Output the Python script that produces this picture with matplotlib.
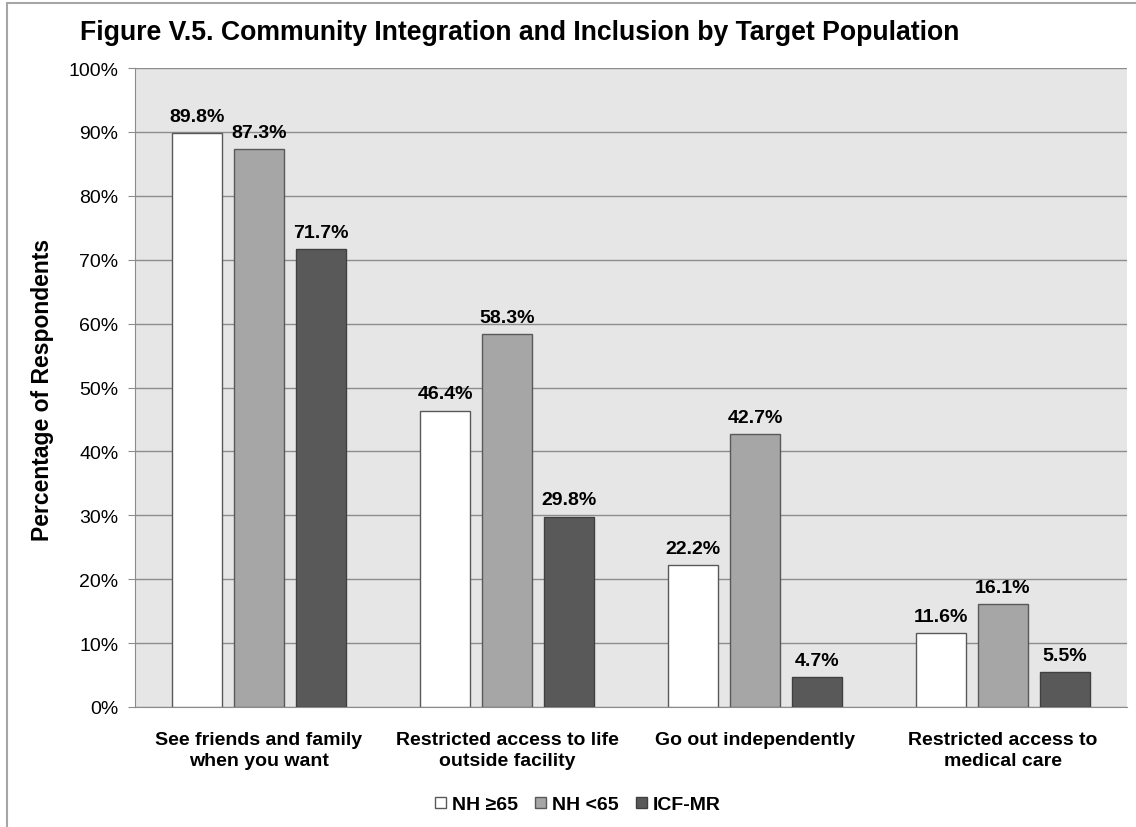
import matplotlib
matplotlib.use("Agg")
import matplotlib.pyplot as plt
import numpy as np
from matplotlib.patches import Rectangle

plt.rcParams['font.family'] = ['Liberation Sans', 'DejaVu Sans']

categories = ["See friends and family\nwhen you want",
              "Restricted access to life\noutside facility",
              "Go out independently",
              "Restricted access to\nmedical care"]
series_names = ["NH \u226565", "NH <65", "ICF-MR"]
nh_65_plus = [89.8, 46.4, 22.2, 11.6]
nh_under_65 = [87.3, 58.3, 42.7, 16.1]
icf_mr = [71.7, 29.8, 4.7, 5.5]
yticks = [0, 10, 20, 30, 40, 50, 60, 70, 80, 90, 100]

series = [nh_65_plus, nh_under_65, icf_mr]
colors = ["#FFFFFF", "#A6A6A6", "#595959"]
edges = ["#595959", "#595959", "#404040"]

W, H = 1136, 828
fig = plt.figure(figsize=(W / 100, H / 100), dpi=100)
ax = fig.add_axes([135 / W, 1 - 708 / H, (1127 - 135) / W, (708 - 69) / H])
ax.set_facecolor("#E6E6E6")

x = np.arange(len(categories))
offsets = [-0.25, 0.0, 0.25]
width = 0.2
for vals, off, c, ec, name in zip(series, offsets, colors, edges, series_names):
    bars = ax.bar(x + off, vals, width, color=c, edgecolor=ec, linewidth=1.0,
                  label=name, zorder=3)
    for b, v in zip(bars, vals):
        ax.annotate(f"{v:.1f}%", (b.get_x() + b.get_width() / 2, v),
                    xytext=(0, 6), textcoords="offset points",
                    ha="center", va="bottom", fontsize=14, fontweight="bold",
                    color="#000000", zorder=4)

ax.set_xlim(-0.5, 3.5)
ax.set_ylim(0, 100)
ax.set_yticks(yticks)
ax.set_yticklabels([f"{t}%" for t in yticks], fontsize=14)
ax.yaxis.grid(True, color="#8C8C8C", linewidth=1.0, zorder=0)
ax.set_axisbelow(True)
ax.tick_params(axis="y", length=5, color="#8C8C8C", pad=7)
ax.tick_params(axis="x", length=0, pad=17)
ax.set_xticks(x)
ax.set_xticklabels(categories, fontsize=14, fontweight="bold", linespacing=1.35)

for side in ["top", "right"]:
    ax.spines[side].set_visible(False)
ax.spines["left"].set_color("#8C8C8C")
ax.spines["bottom"].set_color("#8C8C8C")

fig.text(43 / W, 1 - 390 / H, "Percentage of Respondents", rotation=90,
         fontsize=16.5, fontweight="bold", ha="center", va="center")

fig.text(80 / W, 1 - 33 / H,
         "Figure V.5. Community Integration and Inclusion by Target Population",
         fontsize=19.2, fontweight="bold", ha="left", va="center")

leg = fig.legend(loc="center", bbox_to_anchor=(578 / W, 1 - 806 / H), ncol=3,
                 frameon=False, prop={"weight": "bold", "size": 14},
                 handlelength=0.55, handleheight=0.55, handletextpad=0.3,
                 columnspacing=0.9)

# outer chart border (top and left edges)
fig.add_artist(Rectangle((7 / W, -0.05), 1.2, 1 - 4 / H + 0.05,
                         transform=fig.transFigure, fill=False,
                         edgecolor="#A6A6A6", linewidth=1.5))

fig.savefig("out.png", dpi=100)
